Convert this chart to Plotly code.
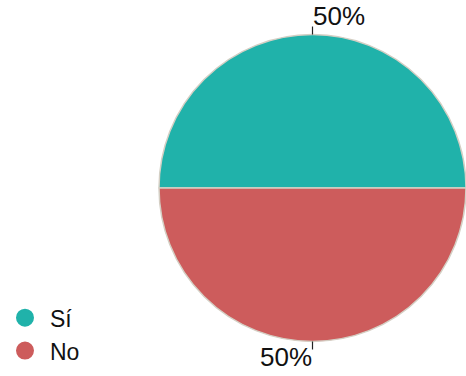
import math

import plotly.graph_objects as go

# Survey answer split
labels = ["Sí", "No"]
values = [50, 50]
colors = ["#20B2AA", "#CD5C5C"]

W, H = 466, 376
FONT = "Liberation Sans, Arial, sans-serif"

# Pie occupies the right part of the canvas; radius follows from the domain
dom_x = [159 / W, 1.0]
dom_y = [0.0, 1.0]
cx = (dom_x[0] + dom_x[1]) / 2 * W
cy = (1 - (dom_y[0] + dom_y[1]) / 2) * H
r = min((dom_x[1] - dom_x[0]) * W, (dom_y[1] - dom_y[0]) * H) / 2

fig = go.Figure()
fig.add_trace(
    go.Pie(
        labels=labels,
        values=values,
        marker=dict(colors=colors, line=dict(color="#d4cfc4", width=1.5)),
        textinfo="none",
        hoverinfo="label+percent",
        sort=False,
        direction="counterclockwise",
        rotation=-90,
        domain=dict(x=dom_x, y=dom_y),
        showlegend=False,
    )
)

# Legend entries drawn as round markers (pie legend would give squares)
for lab, col in zip(labels, colors):
    fig.add_trace(
        go.Scatter(
            x=[None], y=[None], mode="markers", name=lab,
            marker=dict(color=col, size=16, symbol="circle", line=dict(color=col, width=2)),
        )
    )

# Outside percentage labels with short leader ticks, placed from the slice mid-angles
total = sum(values)
start = 0.0
shapes, annotations = [], []
for v in values:
    mid = math.radians((start + v / 2) / total * 360)
    start += v
    dx, dy = math.cos(mid), -math.sin(mid)
    x0, y0 = cx + r * dx, cy + r * dy
    x1, y1 = cx + (r + 8) * dx, cy + (r + 8) * dy
    shapes.append(dict(type="line", xref="paper", yref="paper",
                       x0=x0 / W, y0=1 - y0 / H, x1=x1 / W, y1=1 - y1 / H,
                       line=dict(color="#222222", width=1.2)))
    top = dy < 0
    annotations.append(dict(
        xref="paper", yref="paper", x=x1 / W, y=1 - y1 / H,
        text=f"{round(v / total * 100)}%", showarrow=False,
        xanchor="left" if top else "right",
        yanchor="bottom" if top else "top",
        xshift=-2 if top else 2,
        yshift=-6 if top else 10,
        font=dict(size=26, color="#111111", family=FONT),
    ))

fig.update_layout(
    width=W, height=H,
    margin=dict(l=0, r=0, t=0, b=0),
    paper_bgcolor="white", plot_bgcolor="white",
    xaxis=dict(visible=False), yaxis=dict(visible=False),
    shapes=shapes, annotations=annotations,
    showlegend=True,
    legend=dict(x=0.0, y=0.01, xanchor="left", yanchor="bottom",
                itemwidth=40,
                font=dict(size=23, color="#111111", family=FONT),
                bgcolor="rgba(0,0,0,0)"),
    font=dict(family=FONT),
)

fig.write_html(
    "out.html",
    config={"displayModeBar": False},
    post_script="document.body.style.margin='0';document.body.style.overflow='hidden';",
)
